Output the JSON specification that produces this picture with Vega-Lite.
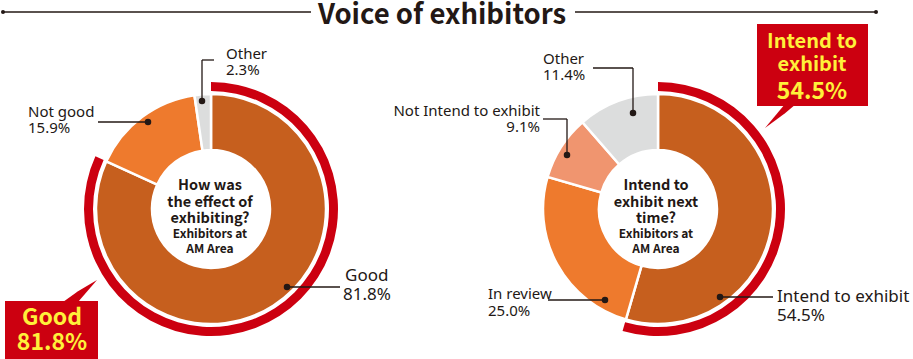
{
  "$schema": "https://vega.github.io/schema/vega-lite/v6.json",
  "width": 913,
  "height": 359,
  "padding": 0,
  "autosize": {"type": "none"},
  "background": "white",
  "config": {"view": {"stroke": null}, "text": {"font": "Noto Sans CJK JP"}},
  "datasets": {
    "effect": [
      {"category": "Good", "share": 81.8, "order": 1},
      {"category": "Not good", "share": 15.9, "order": 2},
      {"category": "Other", "share": 2.3, "order": 3}
    ],
    "intent": [
      {"category": "Intend to exhibit", "share": 54.5, "order": 1},
      {"category": "In review", "share": 25.0, "order": 2},
      {"category": "Not Intend to exhibit", "share": 9.1, "order": 3},
      {"category": "Other", "share": 11.4, "order": 4}
    ],
    "leaders": [
      {"x": 3, "y": 12, "x2": 311, "y2": 12},
      {"x": 575, "y": 12, "x2": 876, "y2": 12},
      {"x": 202, "y": 101, "x2": 202, "y2": 60},
      {"x": 202, "y": 60, "x2": 214, "y2": 60},
      {"x": 98, "y": 122, "x2": 148, "y2": 122},
      {"x": 287, "y": 287, "x2": 340, "y2": 287},
      {"x": 593, "y": 68, "x2": 633, "y2": 68},
      {"x": 633, "y": 68, "x2": 633, "y2": 113},
      {"x": 543, "y": 119, "x2": 567, "y2": 119},
      {"x": 567, "y": 119, "x2": 567, "y2": 155},
      {"x": 548, "y": 300, "x2": 605, "y2": 300},
      {"x": 720, "y": 297, "x2": 773, "y2": 297}
    ],
    "dots": [
      {"x": 202, "y": 101, "kind": "leader"},
      {"x": 148, "y": 122, "kind": "leader"},
      {"x": 287, "y": 287, "kind": "leader"},
      {"x": 633, "y": 113, "kind": "leader"},
      {"x": 567, "y": 155, "kind": "leader"},
      {"x": 605, "y": 300, "kind": "leader"},
      {"x": 720, "y": 297, "kind": "leader"},
      {"x": 3, "y": 12, "kind": "title"},
      {"x": 876, "y": 12, "kind": "title"}
    ],
    "boxes": [
      {"x": 5, "x2": 98, "y": 301, "y2": 359},
      {"x": 757, "x2": 868, "y": 24, "y2": 106}
    ],
    "pointers": [
      {"id": "L", "x": 63, "y": 302, "y2": 302},
      {"id": "L", "x": 78, "y": 291.3, "y2": 302},
      {"id": "L", "x": 97, "y": 280, "y2": 280},
      {"id": "R", "x": 765, "y": 128, "y2": 128},
      {"id": "R", "x": 785, "y": 104, "y2": 113.2},
      {"id": "R", "x": 796, "y": 104, "y2": 104}
    ],
    "texts": [
      {"t": "Voice of exhibitors", "x": 442, "y": 23.5, "kind": "title"},
      {"t": "Other", "x": 226, "y": 59, "kind": "label"},
      {"t": "2.3%", "x": 226, "y": 75, "kind": "label"},
      {"t": "Not good", "x": 28, "y": 117, "kind": "label"},
      {"t": "15.9%", "x": 28, "y": 133, "kind": "label"},
      {"t": "Good", "x": 345, "y": 281, "kind": "big"},
      {"t": "81.8%", "x": 343, "y": 300, "kind": "big"},
      {"t": "Other", "x": 543, "y": 64, "kind": "label"},
      {"t": "11.4%", "x": 543, "y": 80, "kind": "label"},
      {"t": "Not Intend to exhibit", "x": 540, "y": 116, "kind": "labelR"},
      {"t": "9.1%", "x": 540, "y": 132, "kind": "labelR"},
      {"t": "In review", "x": 488, "y": 299, "kind": "label"},
      {"t": "25.0%", "x": 488, "y": 316, "kind": "label"},
      {"t": "Intend to exhibit", "x": 777, "y": 302, "kind": "big"},
      {"t": "54.5%", "x": 777, "y": 321, "kind": "big"},
      {"t": "How was", "x": 210, "y": 190, "kind": "inner"},
      {"t": "the effect of", "x": 210, "y": 206.5, "kind": "inner"},
      {"t": "exhibiting?", "x": 210, "y": 223, "kind": "inner"},
      {"t": "Exhibitors at", "x": 210, "y": 237.5, "kind": "innerSmall"},
      {"t": "AM Area", "x": 210, "y": 252.5, "kind": "innerSmall"},
      {"t": "Intend to", "x": 656, "y": 190, "kind": "inner"},
      {"t": "exhibit next", "x": 656, "y": 206.5, "kind": "inner"},
      {"t": "time?", "x": 656, "y": 223, "kind": "inner"},
      {"t": "Exhibitors at", "x": 656, "y": 237.5, "kind": "innerSmall"},
      {"t": "AM Area", "x": 656, "y": 252.5, "kind": "innerSmall"},
      {"t": "Good", "x": 52, "y": 325, "kind": "callout"},
      {"t": "81.8%", "x": 52, "y": 350, "kind": "callout"},
      {"t": "Intend to", "x": 812, "y": 48, "kind": "calloutS"},
      {"t": "exhibit", "x": 812, "y": 71, "kind": "calloutS"},
      {"t": "54.5%", "x": 812, "y": 99, "kind": "callout"}
    ]
  },
  "layer": [
    {
      "data": {"name": "effect"},
      "mark": {"type": "arc", "innerRadius": 59, "outerRadius": 115, "stroke": "white", "strokeWidth": 2.5},
      "encoding": {
        "x": {"datum": 211, "type": "quantitative", "scale": {"domain": [0, 913], "range": [0, 913]}, "axis": null},
        "y": {"datum": 209, "type": "quantitative", "scale": {"domain": [0, 359], "range": [0, 359]}, "axis": null},
        "theta": {"field": "share", "type": "quantitative", "stack": true, "scale": {"domain": [0, 100]}},
        "order": {"field": "order", "type": "quantitative"},
        "color": {
          "field": "category", "type": "nominal", "legend": null,
          "scale": {
            "domain": ["Good", "Not good", "Other", "Intend to exhibit", "In review", "Not Intend to exhibit"],
            "range": ["#C65F1E", "#EE7A2D", "#DCDDDD", "#C65F1E", "#EE7A2D", "#F0956F"]
          }
        }
      }
    },
    {
      "data": {"name": "intent"},
      "mark": {"type": "arc", "innerRadius": 59, "outerRadius": 115, "stroke": "white", "strokeWidth": 2.5},
      "encoding": {
        "x": {"datum": 658, "type": "quantitative", "scale": {"domain": [0, 913], "range": [0, 913]}, "axis": null},
        "y": {"datum": 209, "type": "quantitative", "scale": {"domain": [0, 359], "range": [0, 359]}, "axis": null},
        "theta": {"field": "share", "type": "quantitative", "stack": true, "scale": {"domain": [0, 100]}},
        "order": {"field": "order", "type": "quantitative"},
        "color": {"field": "category", "type": "nominal", "legend": null}
      }
    },
    {
      "data": {"name": "effect"},
      "transform": [{"filter": "datum.category === 'Good'"}],
      "mark": {"type": "arc", "innerRadius": 118, "outerRadius": 127, "color": "#CC0010"},
      "encoding": {
        "x": {"datum": 211, "type": "quantitative", "scale": {"domain": [0, 913], "range": [0, 913]}, "axis": null},
        "y": {"datum": 209, "type": "quantitative", "scale": {"domain": [0, 359], "range": [0, 359]}, "axis": null},
        "theta": {"field": "share", "type": "quantitative", "stack": true, "scale": {"domain": [0, 100]}}
      }
    },
    {
      "data": {"name": "intent"},
      "transform": [{"filter": "datum.category === 'Intend to exhibit'"}],
      "mark": {"type": "arc", "innerRadius": 118, "outerRadius": 127, "color": "#CC0010"},
      "encoding": {
        "x": {"datum": 658, "type": "quantitative", "scale": {"domain": [0, 913], "range": [0, 913]}, "axis": null},
        "y": {"datum": 209, "type": "quantitative", "scale": {"domain": [0, 359], "range": [0, 359]}, "axis": null},
        "theta": {"field": "share", "type": "quantitative", "stack": true, "scale": {"domain": [0, 100]}}
      }
    },
    {
      "data": {"name": "leaders"},
      "mark": {"type": "rule", "color": "#231815", "strokeWidth": 1.3},
      "encoding": {
        "x": {"field": "x", "type": "quantitative", "scale": {"domain": [0, 913], "range": [0, 913]}, "axis": null},
        "y": {"field": "y", "type": "quantitative", "scale": {"domain": [0, 359], "range": [0, 359]}, "axis": null},
        "x2": {"field": "x2"},
        "y2": {"field": "y2"}
      }
    },
    {
      "data": {"name": "dots"},
      "mark": {"type": "circle", "color": "#231815", "opacity": 1},
      "encoding": {
        "x": {"field": "x", "type": "quantitative", "scale": {"domain": [0, 913], "range": [0, 913]}, "axis": null},
        "y": {"field": "y", "type": "quantitative", "scale": {"domain": [0, 359], "range": [0, 359]}, "axis": null},
        "size": {"field": "kind", "type": "nominal", "legend": null, "scale": {"domain": ["leader", "title"], "range": [42, 16]}}
      }
    },
    {
      "data": {"name": "boxes"},
      "mark": {"type": "rect", "color": "#CC0010"},
      "encoding": {
        "x": {"field": "x", "type": "quantitative", "scale": {"domain": [0, 913], "range": [0, 913]}, "axis": null},
        "y": {"field": "y", "type": "quantitative", "scale": {"domain": [0, 359], "range": [0, 359]}, "axis": null},
        "x2": {"field": "x2"},
        "y2": {"field": "y2"}
      }
    },
    {
      "data": {"name": "pointers"},
      "mark": {"type": "area", "color": "#CC0010", "opacity": 1},
      "encoding": {
        "x": {"field": "x", "type": "quantitative", "scale": {"domain": [0, 913], "range": [0, 913]}, "axis": null},
        "y": {"field": "y", "type": "quantitative", "scale": {"domain": [0, 359], "range": [0, 359]}, "axis": null},
        "y2": {"field": "y2"},
        "detail": {"field": "id", "type": "nominal"}
      }
    },
    {
      "data": {"name": "texts"},
      "transform": [{"filter": "datum.kind === 'title'"}],
      "mark": {"type": "text", "fontSize": 27.5, "fontWeight": "bold", "color": "#231815", "align": "center", "baseline": "alphabetic"},
      "encoding": {
        "x": {"field": "x", "type": "quantitative", "scale": {"domain": [0, 913], "range": [0, 913]}, "axis": null},
        "y": {"field": "y", "type": "quantitative", "scale": {"domain": [0, 359], "range": [0, 359]}, "axis": null},
        "text": {"field": "t", "type": "nominal"}
      }
    },
    {
      "data": {"name": "texts"},
      "transform": [{"filter": "datum.kind === 'label'"}],
      "mark": {"type": "text", "font": "Noto Sans", "fontSize": 15, "color": "#231815", "align": "left", "baseline": "alphabetic"},
      "encoding": {
        "x": {"field": "x", "type": "quantitative", "scale": {"domain": [0, 913], "range": [0, 913]}, "axis": null},
        "y": {"field": "y", "type": "quantitative", "scale": {"domain": [0, 359], "range": [0, 359]}, "axis": null},
        "text": {"field": "t", "type": "nominal"}
      }
    },
    {
      "data": {"name": "texts"},
      "transform": [{"filter": "datum.kind === 'labelR'"}],
      "mark": {"type": "text", "font": "Noto Sans", "fontSize": 15, "color": "#231815", "align": "right", "baseline": "alphabetic"},
      "encoding": {
        "x": {"field": "x", "type": "quantitative", "scale": {"domain": [0, 913], "range": [0, 913]}, "axis": null},
        "y": {"field": "y", "type": "quantitative", "scale": {"domain": [0, 359], "range": [0, 359]}, "axis": null},
        "text": {"field": "t", "type": "nominal"}
      }
    },
    {
      "data": {"name": "texts"},
      "transform": [{"filter": "datum.kind === 'big'"}],
      "mark": {"type": "text", "font": "Noto Sans", "fontSize": 17, "color": "#231815", "align": "left", "baseline": "alphabetic"},
      "encoding": {
        "x": {"field": "x", "type": "quantitative", "scale": {"domain": [0, 913], "range": [0, 913]}, "axis": null},
        "y": {"field": "y", "type": "quantitative", "scale": {"domain": [0, 359], "range": [0, 359]}, "axis": null},
        "text": {"field": "t", "type": "nominal"}
      }
    },
    {
      "data": {"name": "texts"},
      "transform": [{"filter": "datum.kind === 'inner'"}],
      "mark": {"type": "text", "fontSize": 14.5, "fontWeight": "bold", "color": "#231815", "align": "center", "baseline": "alphabetic"},
      "encoding": {
        "x": {"field": "x", "type": "quantitative", "scale": {"domain": [0, 913], "range": [0, 913]}, "axis": null},
        "y": {"field": "y", "type": "quantitative", "scale": {"domain": [0, 359], "range": [0, 359]}, "axis": null},
        "text": {"field": "t", "type": "nominal"}
      }
    },
    {
      "data": {"name": "texts"},
      "transform": [{"filter": "datum.kind === 'innerSmall'"}],
      "mark": {"type": "text", "fontSize": 12, "fontWeight": "bold", "color": "#231815", "align": "center", "baseline": "alphabetic"},
      "encoding": {
        "x": {"field": "x", "type": "quantitative", "scale": {"domain": [0, 913], "range": [0, 913]}, "axis": null},
        "y": {"field": "y", "type": "quantitative", "scale": {"domain": [0, 359], "range": [0, 359]}, "axis": null},
        "text": {"field": "t", "type": "nominal"}
      }
    },
    {
      "data": {"name": "texts"},
      "transform": [{"filter": "datum.kind === 'callout'"}],
      "mark": {"type": "text", "fontSize": 23, "fontWeight": "bold", "color": "#FFF03A", "align": "center", "baseline": "alphabetic"},
      "encoding": {
        "x": {"field": "x", "type": "quantitative", "scale": {"domain": [0, 913], "range": [0, 913]}, "axis": null},
        "y": {"field": "y", "type": "quantitative", "scale": {"domain": [0, 359], "range": [0, 359]}, "axis": null},
        "text": {"field": "t", "type": "nominal"}
      }
    },
    {
      "data": {"name": "texts"},
      "transform": [{"filter": "datum.kind === 'calloutS'"}],
      "mark": {"type": "text", "fontSize": 20, "fontWeight": "bold", "color": "#FFF03A", "align": "center", "baseline": "alphabetic"},
      "encoding": {
        "x": {"field": "x", "type": "quantitative", "scale": {"domain": [0, 913], "range": [0, 913]}, "axis": null},
        "y": {"field": "y", "type": "quantitative", "scale": {"domain": [0, 359], "range": [0, 359]}, "axis": null},
        "text": {"field": "t", "type": "nominal"}
      }
    }
  ]
}
